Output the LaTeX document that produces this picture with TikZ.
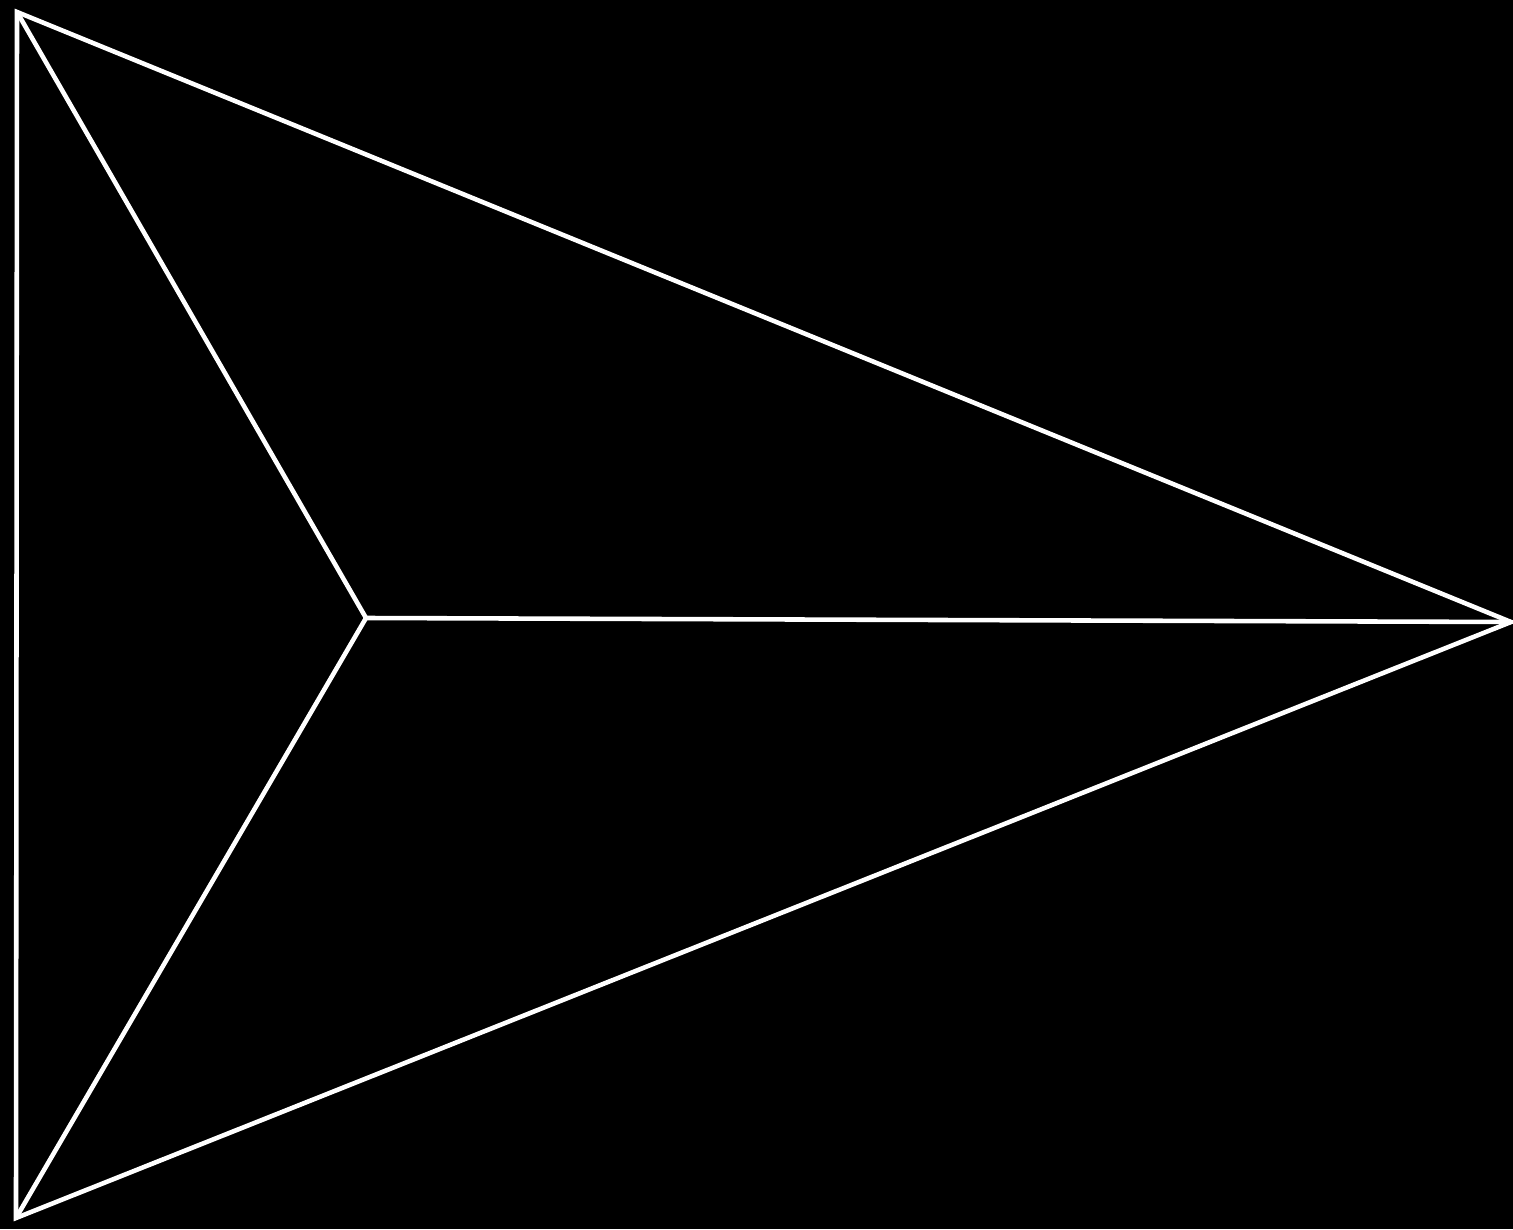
\documentclass[tikz,border=0pt]{standalone}
\usetikzlibrary{calc}

\begin{document}
\begin{tikzpicture}
\coordinate (O) at (0,0);
\coordinate (E) at (15.13,12.29);
\coordinate (A) at (0.17,12.17);
\coordinate (B) at (0.16,0.11);
\coordinate (C) at (15.11,6.07);
\coordinate (D) at (3.66,6.11);

% Black background fixes the page size.
\fill[black] (O) rectangle (E);
\useasboundingbox (O) rectangle (E);

% Outer triangle.
\draw[white,line width=1.3pt,line join=miter] (A)--(B)--(C)--cycle;

% Inner point joined to each corner.
\draw[white,line width=1.3pt] (D)--(A);
\draw[white,line width=1.3pt] (D)--(B);
\draw[white,line width=1.3pt] (D)--(C);
\end{tikzpicture}
\end{document}
